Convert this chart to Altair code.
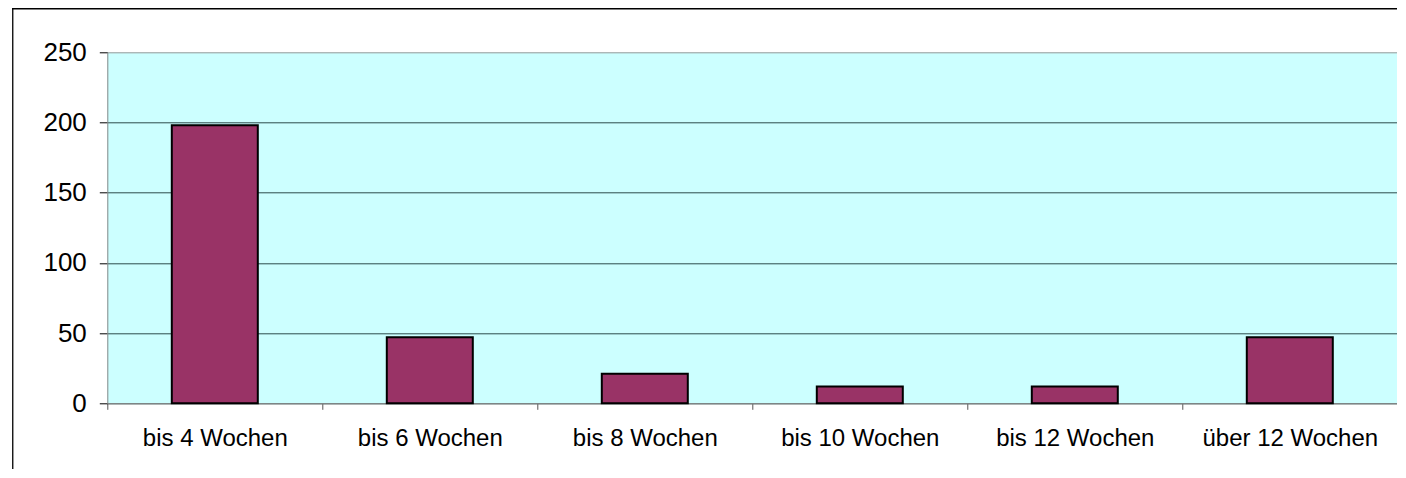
import altair as alt
import pandas as pd

categories = ["bis 4 Wochen", "bis 6 Wochen", "bis 8 Wochen", "bis 10 Wochen", "bis 12 Wochen", "über 12 Wochen"]
values = [198, 47, 21, 12, 12, 47]
y_ticks = [0, 50, 100, 150, 200, 250]

df = pd.DataFrame({"Kategorie": categories, "Anzahl": values})
frame_df = pd.DataFrame({"k": [0]})

W = 1290
H = 351
FONT = "Liberation Sans"

bars = alt.Chart(df).mark_bar(
    width=alt.RelativeBandSize(0.4), fill="#993366", stroke="#000000", strokeWidth=2
).encode(
    x=alt.X(
        "Kategorie:N", sort=categories,
        scale=alt.Scale(paddingInner=0, paddingOuter=0),
        axis=alt.Axis(
            title=None, labelAngle=0, labelFont=FONT, labelFontSize=24, labelColor="#000000",
            labelPadding=36, labelBaseline="alphabetic", tickBand="extent", tickSize=6,
            tickColor="#555555", domainColor="#888888", grid=False,
        ),
    ),
    y=alt.Y(
        "Anzahl:Q", scale=alt.Scale(domain=[0, 250]),
        axis=alt.Axis(
            title=None, values=y_ticks, labelFont=FONT, labelFontSize=26, labelColor="#000000",
            labelPadding=13, tickSize=8, tickColor="#000000", domainColor="#888888",
            grid=True,
            gridColor=alt.condition(
                "datum.value >= 250", alt.value("#999999"),
                alt.value("#2b4a4a"),
            ),
            gridWidth=1,
        ),
    ),
)

left_frame = alt.Chart(frame_df).mark_rect(color="#000000", strokeWidth=0).encode(
    x=alt.value(-95.2), x2=alt.value(-93.9), y=alt.value(-44.2), y2=alt.value(440)
)
top_frame = alt.Chart(frame_df).mark_rect(color="#000000", strokeWidth=0).encode(
    x=alt.value(-95.2), x2=alt.value(W + 20), y=alt.value(-44.2), y2=alt.value(-42.9)
)

chart = alt.layer(bars, left_frame, top_frame).properties(
    width=W, height=H,
    autosize=alt.AutoSizeParams(type="none"),
    padding={"left": 99.3, "top": 44.3, "right": 0, "bottom": 66},
).configure_view(
    fill="#CCFFFF", strokeWidth=0
)

chart.save("out.html", embed_options={"renderer": "svg", "actions": False})
